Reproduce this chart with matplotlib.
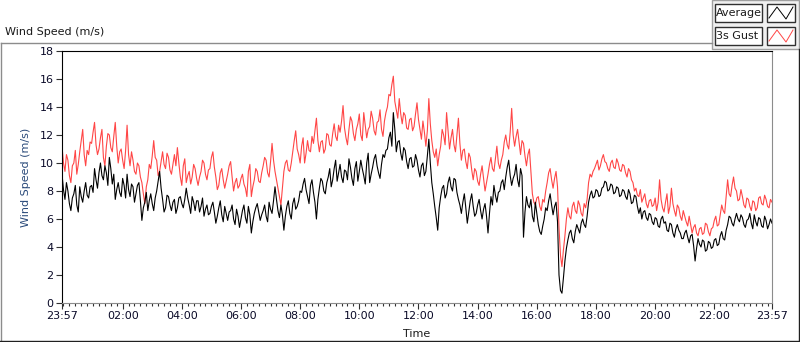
"""
Wind speed over one day: average and 3 s gust, sampled every 3 minutes.
"""

import datetime
import matplotlib
matplotlib.use("Agg")
import matplotlib.dates as mdates
import matplotlib.pyplot as plt
from matplotlib.lines import Line2D
from matplotlib.patches import Rectangle

START = datetime.datetime(2014, 3, 1, 23, 57)
STEP_MIN = 3

# values every 3 minutes from 23:57, one row per hour
average = [
    9.2, 8.1, 7.4, 8.6, 8.0, 7.1, 6.6, 7.5, 7.8, 8.4, 7.0, 6.5, 8.3, 7.6, 7.2, 8.0, 8.6, 7.7, 7.5, 8.3,
    8.4, 7.9, 9.6, 8.8, 8.2, 9.3, 10.0, 9.1, 8.8, 9.8, 9.3, 8.4, 10.4, 9.6, 8.5, 9.2, 7.4, 8.1, 8.6, 7.9,
    7.6, 8.9, 8.4, 7.5, 9.2, 8.1, 7.6, 8.5, 8.3, 7.2, 7.8, 8.4, 8.6, 7.3, 5.9, 6.8, 7.2, 7.9, 6.6, 7.3,
    7.8, 7.1, 6.6, 7.5, 8.0, 8.7, 9.4, 8.2, 7.4, 6.5, 6.8, 7.7, 7.6, 7.0, 6.6, 7.2, 7.4, 6.4, 6.8, 7.5,
    7.6, 7.1, 6.8, 7.4, 8.2, 7.5, 7.0, 6.4, 7.6, 7.2, 6.6, 7.3, 7.3, 6.5, 6.9, 7.5, 6.2, 6.7, 7.0, 6.3,
    6.4, 6.9, 7.2, 6.5, 5.7, 6.2, 6.8, 7.3, 6.3, 5.8, 6.9, 6.4, 5.9, 6.5, 6.6, 7.0, 6.0, 5.6, 6.7, 6.2,
    5.4, 6.0, 6.6, 7.0, 6.1, 5.7, 6.9, 6.3, 5.0, 5.8, 6.4, 6.8, 7.1, 6.5, 5.9, 6.3, 6.6, 7.0, 6.2, 5.8,
    7.2, 6.7, 6.4, 7.3, 8.3, 7.4, 6.6, 6.1, 7.0, 6.3, 5.2, 6.2, 6.9, 7.3, 6.4, 6.0, 7.1, 7.5, 6.7, 6.9,
    7.3, 8.0, 7.9, 8.5, 8.9, 8.1, 7.6, 7.1, 8.4, 8.8, 7.9, 7.2, 6.0, 7.4, 8.2, 8.9, 8.7, 8.0, 7.8, 8.6,
    9.0, 9.6, 8.3, 8.8, 9.6, 10.2, 8.7, 9.3, 9.9, 9.0, 8.6, 9.5, 9.4, 8.8, 10.3, 9.7, 8.9, 8.4, 9.6, 10.1,
    8.7, 9.4, 10.2, 9.6, 9.1, 8.5, 10.0, 10.7, 8.6, 9.2, 9.7, 10.3, 10.6, 9.8, 9.3, 8.9, 9.9, 10.6, 10.4, 10.9,
    11.0, 11.8, 12.2, 11.2, 13.6, 12.4, 10.8, 11.5, 11.6, 10.7, 10.2, 11.1, 10.9, 10.1, 9.6, 10.3, 10.4, 9.7, 9.8, 10.6,
    10.2, 9.5, 9.0, 9.8, 10.0, 9.1, 9.4, 10.5, 11.7, 10.0, 8.6, 7.8, 6.9, 6.1, 5.2, 6.8, 7.6, 8.2, 8.4, 7.5,
    7.8, 8.6, 9.0, 8.3, 8.0, 8.9, 8.8, 7.9, 7.4, 7.0, 6.4, 7.2, 7.8, 6.8, 5.7, 6.5, 7.3, 7.8, 6.9, 6.2,
    6.4, 7.0, 7.4, 6.6, 6.0, 6.7, 7.1, 6.2, 5.0, 6.4, 7.6, 7.0, 8.4, 7.7, 7.2, 7.9, 8.0, 8.6, 8.8, 8.1,
    9.0, 9.7, 10.2, 9.1, 8.4, 8.9, 9.2, 9.9, 8.8, 8.3, 9.6, 9.1, 4.7, 6.5, 7.6, 7.0, 6.8, 7.4, 6.2, 5.8,
    7.2, 6.4, 5.6, 5.1, 4.9, 5.5, 6.0, 6.8, 6.6, 7.3, 7.8, 7.0, 6.3, 6.9, 7.2, 5.8, 2.0, 0.9, 0.7, 1.8,
    3.0, 3.9, 4.5, 5.0, 5.2, 4.6, 4.3, 5.1, 5.6, 5.3, 5.0, 5.7, 6.0, 5.6, 5.4, 6.2, 7.2, 7.7, 8.0, 7.5,
    7.6, 8.1, 8.0, 7.6, 7.7, 8.2, 8.3, 8.7, 8.6, 8.0, 8.1, 8.5, 8.4, 7.8, 7.9, 8.3, 8.2, 7.6, 7.7, 8.1,
    8.0, 7.6, 7.4, 8.1, 7.8, 7.1, 7.2, 7.7, 7.6, 6.9, 6.4, 6.8, 6.0, 6.5, 6.6, 6.1, 5.9, 6.4, 6.3, 5.8,
    5.6, 6.1, 6.0, 5.5, 5.4, 6.0, 6.2, 5.7, 5.8, 5.2, 5.1, 5.7, 5.6, 5.0, 4.7, 5.3, 5.6, 5.2, 5.0, 4.6,
    4.6, 5.0, 5.2, 4.7, 4.3, 4.8, 4.9, 4.1, 3.0, 3.9, 4.6, 4.2, 4.0, 4.5, 4.4, 3.7, 3.8, 4.4, 4.3, 3.9,
    4.0, 4.5, 4.6, 4.1, 4.2, 4.8, 5.1, 4.6, 4.5, 5.2, 5.6, 6.2, 6.1, 5.7, 5.5, 6.0, 6.4, 6.0, 5.8, 6.3,
    6.1, 5.6, 5.4, 5.9, 6.0, 6.4, 5.7, 5.3, 6.3, 5.8, 5.5, 6.1, 6.0, 5.5, 5.4, 6.2, 5.9, 5.3, 5.6, 6.0,
    5.7,
]

gust = [
    11.2, 10.0, 9.4, 10.6, 10.2, 9.1, 8.6, 9.8, 10.0, 10.9, 9.2, 9.9, 10.8, 11.6, 12.4, 10.6, 9.8, 10.9, 10.6, 11.5,
    11.4, 12.2, 12.9, 11.3, 10.6, 11.0, 11.8, 12.4, 10.4, 9.8, 11.2, 12.1, 12.0, 11.1, 10.8, 11.9, 12.9, 11.2, 10.0, 10.8,
    11.0, 10.2, 9.6, 10.9, 12.7, 10.6, 9.8, 10.8, 10.2, 9.4, 9.2, 10.0, 9.8, 9.0, 8.6, 7.8, 7.1, 8.3, 8.8, 9.9,
    9.6, 10.5, 11.6, 10.4, 10.2, 9.1, 9.4, 10.1, 10.8, 9.9, 9.6, 10.7, 10.4, 9.5, 9.2, 9.9, 10.6, 9.8, 11.1, 10.0,
    9.0, 8.4, 9.8, 10.3, 8.6, 9.1, 9.4, 8.5, 9.0, 9.9, 9.6, 8.9, 8.4, 9.0, 9.4, 10.2, 10.0, 9.2, 8.8, 9.5,
    9.6, 10.4, 10.8, 9.7, 9.0, 8.1, 8.4, 9.3, 9.6, 8.8, 8.2, 8.7, 9.2, 9.8, 10.1, 9.0, 8.0, 8.6, 8.9, 8.2,
    8.4, 8.9, 9.2, 8.5, 8.2, 7.6, 9.4, 9.9, 7.6, 8.3, 8.8, 9.6, 9.4, 8.7, 8.6, 9.3, 9.8, 10.4, 10.2, 9.3,
    9.0, 10.1, 11.4, 10.2, 9.4, 8.8, 8.2, 7.6, 7.0, 8.2, 9.4, 10.0, 10.2, 9.5, 9.4, 10.0, 10.8, 11.6, 12.3, 11.0,
    10.6, 10.0, 11.2, 11.8, 10.0, 10.7, 11.6, 10.9, 10.8, 11.9, 11.4, 12.3, 13.2, 11.6, 10.8, 11.5, 11.6, 10.7, 11.0, 12.1,
    12.0, 11.3, 11.2, 12.1, 12.8, 11.9, 11.6, 12.7, 12.2, 13.0, 14.1, 12.5, 11.8, 11.3, 12.4, 13.3, 13.0, 12.1, 11.6, 12.4,
    12.8, 13.5, 12.0, 11.6, 13.6, 12.7, 11.8, 12.4, 12.6, 13.7, 13.2, 12.3, 12.0, 12.9, 13.0, 13.8, 12.4, 11.9, 13.0, 13.6,
    14.0, 14.9, 14.8, 15.6, 16.2, 14.4, 13.8, 13.2, 14.6, 13.5, 12.8, 13.6, 13.4, 12.5, 12.4, 13.1, 13.2, 12.3, 12.6, 13.5,
    14.3, 13.1, 12.4, 11.7, 13.0, 12.2, 11.2, 12.3, 14.6, 12.8, 11.6, 10.8, 10.4, 11.0, 9.8, 10.6, 11.2, 12.4, 12.0, 11.3,
    13.6, 12.3, 11.0, 11.8, 12.4, 11.3, 10.8, 12.0, 13.2, 11.4, 10.2, 10.9, 11.0, 10.1, 9.6, 10.7, 10.4, 9.5, 8.8, 9.6,
    9.4, 8.7, 8.4, 9.2, 9.8, 8.9, 8.0, 8.6, 9.2, 9.9, 10.4, 9.6, 9.4, 10.3, 11.2, 10.0, 9.6, 10.2, 10.6, 11.5,
    12.0, 11.3, 11.0, 12.2, 13.9, 12.0, 11.2, 11.9, 12.4, 11.5, 10.6, 11.6, 11.4, 10.5, 9.8, 10.6, 11.0, 9.4, 7.8, 7.2,
    7.0, 7.5, 7.6, 6.9, 6.6, 7.4, 7.2, 8.0, 8.6, 9.3, 9.6, 8.8, 8.2, 8.9, 9.4, 8.3, 5.4, 3.4, 2.6, 3.8,
    4.8, 6.0, 6.8, 6.2, 6.0, 6.9, 7.2, 6.6, 6.4, 7.3, 7.0, 6.4, 6.2, 7.1, 6.8, 7.4, 8.6, 9.2, 9.0, 9.4,
    9.6, 9.9, 10.2, 9.5, 9.8, 10.3, 10.6, 10.1, 10.0, 9.6, 9.4, 10.0, 10.2, 9.7, 9.6, 10.3, 10.0, 9.5, 9.4, 9.9,
    9.8, 9.3, 9.0, 9.6, 9.4, 8.8, 8.6, 8.0, 8.2, 7.7, 7.6, 8.1, 7.2, 7.5, 7.8, 7.1, 6.8, 7.3, 7.4, 6.9,
    7.0, 7.5, 6.6, 7.2, 8.8, 7.4, 6.8, 6.5, 7.2, 7.8, 6.4, 6.9, 8.2, 7.1, 6.6, 6.2, 7.0, 6.8, 6.2, 5.9,
    6.6, 6.2, 5.8, 5.5, 6.2, 5.6, 5.0, 5.4, 5.6, 5.0, 4.8, 5.3, 5.4, 4.9, 5.0, 5.7, 5.6, 5.1, 4.8, 5.3,
    5.4, 5.9, 6.2, 5.5, 5.6, 6.3, 7.0, 6.6, 6.4, 7.6, 8.8, 7.8, 7.6, 8.4, 9.0, 8.2, 8.0, 7.3, 7.4, 8.1,
    7.6, 7.0, 6.8, 7.5, 7.4, 6.9, 6.6, 7.3, 7.2, 6.6, 6.8, 7.5, 7.6, 7.1, 7.0, 7.7, 7.4, 6.9, 6.8, 7.4,
    7.2,
]

series_names = ["Average", "3s Gust"]
series_colors = ["black", "#ff4646"]

assert len(average) == len(gust) == 24 * 20 + 1, (len(average), len(gust))

times = [START + datetime.timedelta(minutes=STEP_MIN * i)
         for i in range(len(average))]
end = times[-1]

plt.rcParams["font.family"] = ["DejaVu Sans"]
plt.rcParams["font.size"] = 8

fig = plt.figure(figsize=(8, 3.42), dpi=100)
W, H = 800.0, 342.0


def fx(px):
    return px / W


def fy(py):
    return 1 - py / H


# outer frame of the graph control
fig.add_artist(Line2D([fx(0.5), fx(712)], [fy(42.5), fy(42.5)],
                      color="#8c8c8c", lw=1))
fig.add_artist(Line2D([fx(0.5), fx(0.5)], [fy(42.5), fy(341)],
                      color="#8c8c8c", lw=1))
fig.add_artist(Line2D([fx(0), fx(800)], [fy(341), fy(341)],
                      color="#202020", lw=1))
fig.add_artist(Line2D([fx(799), fx(799)], [fy(49), fy(341)],
                      color="#202020", lw=1))
fig.text(fx(5), fy(32), "Wind Speed (m/s)", ha="left", va="center",
         color="#1a1a1a", fontsize=8)

ax = fig.add_axes([fx(62), fy(303), fx(772) - fx(62), fy(51) - fy(303)])
ax.plot(times, gust, color=series_colors[1], lw=0.8)
ax.plot(times, average, color=series_colors[0], lw=0.8)

ax.set_xlim(START, end)
ax.set_ylim(0, 18)
ax.set_yticks(range(0, 19, 2))

major = [START] + [datetime.datetime(2014, 3, 2, h) for h in range(2, 23, 2)]
major.append(end)
ax.set_xticks(major)
ax.xaxis.set_major_formatter(mdates.DateFormatter("%H:%M"))
ax.xaxis.set_minor_locator(mdates.MinuteLocator(byminute=[0, 12, 24, 36, 48]))

ax.tick_params(axis="both", which="major", direction="out", length=4,
               width=0.8, colors="#303030", labelcolor="#0a0a28",
               labelsize=8, pad=2)
ax.tick_params(axis="x", which="minor", direction="out", length=2,
               width=0.8, colors="#303030")
for side in ("top", "left"):
    ax.spines[side].set_color("black")
for side in ("right", "bottom"):
    ax.spines[side].set_color("#8c8c8c")

ax.set_ylabel("Wind Speed (m/s)", color="#2a4a7a", fontsize=8)
ax.yaxis.set_label_coords(-0.043, 0.5)
ax.set_xlabel("Time", color="#1a1a1a", fontsize=8)
ax.xaxis.set_label_coords(0.5, -0.105)

# plot legend in the top right corner
fig.add_artist(Rectangle((fx(712), fy(49)), fx(799) - fx(712), fy(0) - fy(49),
                         facecolor="#f0f0f0", edgecolor="#a0a0a0", lw=1))
for row, (name, color) in enumerate(zip(series_names, series_colors)):
    top = 4 + 23 * row
    bottom = top + 18
    fig.add_artist(Rectangle((fx(715), fy(bottom)), fx(762) - fx(715),
                             fy(top) - fy(bottom), facecolor="white",
                             edgecolor="#303030", lw=1))
    fig.add_artist(Rectangle((fx(767), fy(bottom)), fx(795) - fx(767),
                             fy(top) - fy(bottom), facecolor="white",
                             edgecolor="#303030", lw=1))
    fig.text(fx(716), fy((top + bottom) / 2), name, ha="left", va="center",
             fontsize=8, color="#1a1a1a")
    fig.add_artist(Line2D([fx(769), fx(777), fx(786), fx(793)],
                          [fy(bottom - 4), fy(top + 3), fy(bottom - 3),
                           fy(top + 3)], color=color, lw=0.7))

plt.savefig("out.png", dpi=100)
